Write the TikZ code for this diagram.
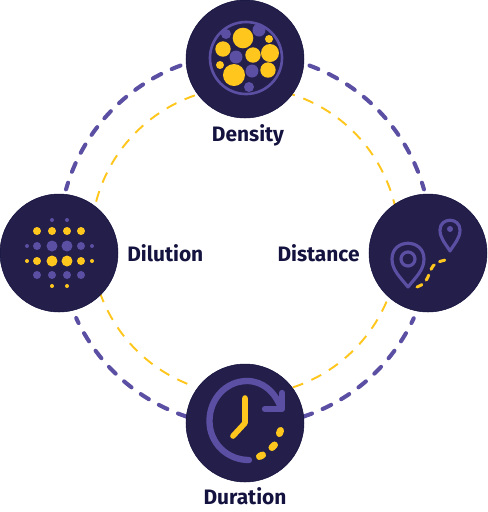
\documentclass[tikz,border=0pt]{standalone}
\usepackage{fontspec}
\setmainfont{Fira Sans}
\usetikzlibrary{positioning}
\definecolor{navy}{HTML}{231F4A}
\definecolor{ink}{HTML}{14123F}
\definecolor{violet}{HTML}{5A4FA2}
\definecolor{gold}{HTML}{FFC61E}

\begin{document}
\begin{tikzpicture}[
  x=0.02cm, y=-0.02cm,
  disc/.style={draw=ink, line width=0.3pt, circle, fill=navy, minimum size=2.36cm, inner sep=0pt},
  lbl/.style={font=\bfseries\fontsize{11.9}{14}\selectfont, text=ink, inner sep=0pt},
  outerring/.style={draw=violet, line width=2.3pt, line cap=round, dash pattern=on 0.19cm off 0.23cm},
  innerring/.style={draw=gold, line width=1.1pt, dash pattern=on 0.22cm off 0.18cm},
  pin/.style={draw=violet, line width=1.8pt, line join=round},
  vdot/.style={fill=violet},
  ydot/.style={fill=gold}
]
  \useasboundingbox (0,0) rectangle (488,512);

  \begin{scope}[shift={(245,241)}, x=0.02cm, y=0.02cm]
    \foreach \a/\b in {109/168, 75.2/12, 248/192, -71.9/-12}
      \draw[innerring] (\a:154) arc[start angle=\a, end angle=\b, radius=154];
  \end{scope}
  \begin{scope}[shift={(245,240)}, x=0.02cm, y=0.02cm]
    \foreach \a/\b in {110.3/164.2, 69.7/15.8, 251.8/204.8, -71.8/-24.9}
      \draw[outerring] (\a:186) arc[start angle=\a, end angle=\b, radius=186];
  \end{scope}

  \node[disc] (density) at (245,59) {};
  \node[disc] (dilution) at (59,253) {};
  \node[disc] (distance) at (428,253) {};
  \node[disc] (duration) at (245,423) {};

  \node[lbl, below=3.5pt of density, xshift=1.7pt] (densitylbl) {Density};
  \node[lbl, right=5pt of dilution] (dilutionlbl) {Dilution};
  \node[lbl, left=5pt of distance] (distancelbl) {Distance};
  \node[lbl, below=3pt of duration] (durationlbl) {Duration};

  % density
  \draw[violet, line width=1.5pt] (246,58) circle[radius=36];
  \foreach \x/\y/\r in {226/34/5, 259/30/6.5, 236/57/6.5, 252/71/6.5, 249/87/5}
    \fill[vdot] (\x,\y) circle[radius=\r];
  \foreach \x/\y/\r in {243/38/10.3, 269/39/4, 223/49/7.7, 253/55/7.7, 270/53/9, 220/65/4, 234/75/11, 268/70/7.7}
    \fill[ydot] (\x,\y) circle[radius=\r];

  % dilution
  \foreach \x/\y/\r in {52/220/2, 67/220/2, 27/246/2, 37/246/4, 52/246/5.5, 67/246/5.5, 81/246/4, 92/246/2,
                        37/275/4, 52/275/4, 67/275/4, 81/275/4}
    \fill[vdot] (\x,\y) circle[radius=\r];
  \foreach \x/\y/\r in {37/231/4, 52/231/4, 67/231/4, 81/231/4, 27/261/2, 37/261/4, 52/261/5.5, 67/261/5.5,
                        81/261/4, 92/261/2, 52/286/2, 67/286/2}
    \fill[ydot] (\x,\y) circle[radius=\r];

  % distance
  \draw[pin] (408,287) .. controls (400,277) and (392,270) .. (392,259)
    .. controls (392,238) and (424,238) .. (424,259) .. controls (424,270) and (416,277) .. (408,287) -- cycle;
  \draw[pin] (408,259) circle[radius=7];
  \draw[pin] (450,251) .. controls (445,243) and (440,238) .. (440,230)
    .. controls (440,217) and (460,217) .. (460,230) .. controls (460,238) and (455,243) .. (450,251) -- cycle;
  \fill[vdot] (450,229) circle[radius=3];
  \draw[gold, line width=1.7pt, line cap=round, dash pattern=on 0.11cm off 0.126cm]
    (417,287) .. controls (429,283) and (428,273) .. (433,266) .. controls (437,260) and (444,262) .. (449,258);

  % duration
  \draw[violet, line width=3.6pt, line cap=round] (249,460) .. controls (227,460) and (209.5,443) .. (209.5,421)
    .. controls (209.5,399) and (226,381) .. (247,381) .. controls (263,381) and (275,392) .. (281,408);
  \draw[violet, line width=3.6pt, line cap=round, line join=round] (282,393) -- (282,409) -- (265,409);
  \draw[gold, line width=3.2pt, line cap=round, line join=round] (245,398) -- (245,423) -- (233,436);
  \draw[gold, line width=4pt, line cap=round] (279.5,433.5) -- (280.5,430.5);
  \draw[gold, line width=4pt, line cap=round] (272,447.5) -- (274.5,445);
  \draw[gold, line width=4pt, line cap=round] (259.5,456.5) -- (262.5,455);
\end{tikzpicture}
\end{document}
